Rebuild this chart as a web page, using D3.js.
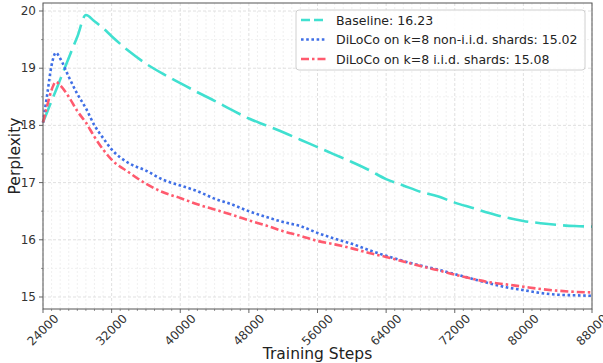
<!DOCTYPE html>
<html>
<head>
<meta charset="utf-8">
<script src="https://d3js.org/d3.v7.min.js"></script>
<style>
  body { margin: 0; background: #fff; }
  text { font-family: "DejaVu Sans", sans-serif; }
</style>
</head>
<body>
<script>
// evaluation steps shared by all three runs
var steps = [24000, 24500, 25000, 25500, 26000, 27000, 28000, 29000, 30000, 31000, 32000,
  34000, 36000, 38000, 40000, 42000, 44000, 46000, 48000, 50000, 52000, 54000, 56000,
  58000, 60000, 62000, 64000, 66000, 68000, 70000, 72000, 74000, 76000, 78000, 80000,
  82000, 84000, 86000, 88000];

var baseline = [18.05, 18.24, 18.43, 18.61, 18.80, 19.18, 19.55, 19.93, 19.82, 19.70, 19.56,
  19.30, 19.08, 18.90, 18.74, 18.58, 18.43, 18.27, 18.12, 18.00, 17.88, 17.75, 17.62,
  17.49, 17.36, 17.22, 17.06, 16.95, 16.84, 16.76, 16.65, 16.56, 16.47, 16.39, 16.33,
  16.29, 16.26, 16.24, 16.23];

var nonIid = [18.05, 18.55, 19.05, 19.27, 19.17, 18.85, 18.55, 18.30, 18.00, 17.78, 17.58,
  17.34, 17.21, 17.05, 16.95, 16.85, 16.72, 16.62, 16.50, 16.40, 16.31, 16.24, 16.12,
  16.02, 15.93, 15.82, 15.72, 15.63, 15.55, 15.48, 15.40, 15.32, 15.24, 15.17, 15.12,
  15.07, 15.04, 15.03, 15.02];

var iid = [18.05, 18.35, 18.62, 18.76, 18.70, 18.50, 18.25, 18.05, 17.80, 17.58, 17.40,
  17.18, 16.98, 16.83, 16.73, 16.62, 16.53, 16.44, 16.34, 16.25, 16.15, 16.07, 15.98,
  15.92, 15.85, 15.77, 15.70, 15.62, 15.54, 15.47, 15.39, 15.32, 15.26, 15.22, 15.18,
  15.14, 15.11, 15.09, 15.08];

var xTicks = [24000, 32000, 40000, 48000, 56000, 64000, 72000, 80000, 88000];
var yTicks = [15, 16, 17, 18, 19, 20];

var series = [
  {name: "Baseline: 16.23", values: baseline, color: "#40e0d0", dash: "21,7", width: 2.6},
  {name: "DiLoCo on k=8 non-i.i.d. shards: 15.02", values: nonIid, color: "#3f6fe6", dash: "2.6,2.6", width: 2.6},
  {name: "DiLoCo on k=8 i.i.d. shards: 15.08", values: iid, color: "#ff5a6e", dash: "8,3,2.5,3", width: 2.6}
];

const W = 603, H = 363;
const pLeft = 43, pRight = 592, pTop = 3, pBottom = 309;

const svg = d3.select("body").append("svg")
  .attr("width", W).attr("height", H);

var x = d3.scaleLinear().domain([24000, 88000]).range([pLeft, pRight]);
var y = d3.scaleLinear().domain([14.79, 20.14]).range([pBottom, pTop]);

// grid: minor first, then major
var minorX = d3.range(24000, 88001, 1000).filter(d => d % 8000 != 0);
var minorY = d3.range(15.5, 20.1, 1);

var grid = svg.append("g");
grid.selectAll(".mx").data(minorX).enter().append("line")
  .attr("x1", d => x(d)).attr("x2", d => x(d)).attr("y1", pTop).attr("y2", pBottom)
  .attr("stroke", "#ececec").attr("stroke-width", 0.8).attr("stroke-dasharray", "2,2");
grid.selectAll(".my").data(minorY).enter().append("line")
  .attr("y1", d => y(d)).attr("y2", d => y(d)).attr("x1", pLeft).attr("x2", pRight)
  .attr("stroke", "#ececec").attr("stroke-width", 0.8).attr("stroke-dasharray", "2,2");
grid.selectAll(".Mx").data(xTicks).enter().append("line")
  .attr("x1", d => x(d)).attr("x2", d => x(d)).attr("y1", pTop).attr("y2", pBottom)
  .attr("stroke", "#dcdcdc").attr("stroke-width", 0.9).attr("stroke-dasharray", "3,2");
grid.selectAll(".My").data(yTicks).enter().append("line")
  .attr("y1", d => y(d)).attr("y2", d => y(d)).attr("x1", pLeft).attr("x2", pRight)
  .attr("stroke", "#dcdcdc").attr("stroke-width", 0.9).attr("stroke-dasharray", "3,2");

// lines
var line = d3.line()
  .x((d, i) => x(steps[i]))
  .y(d => y(d))
  .curve(d3.curveMonotoneX);

svg.selectAll(".series").data(series).enter().append("path")
  .attr("d", d => line(d.values))
  .attr("fill", "none")
  .attr("stroke", d => d.color)
  .attr("stroke-width", d => d.width)
  .attr("stroke-dasharray", d => d.dash);

// frame
svg.append("rect")
  .attr("x", pLeft).attr("y", pTop).attr("width", pRight - pLeft).attr("height", pBottom - pTop)
  .attr("fill", "none").attr("stroke", "#555").attr("stroke-width", 1);

// x axis
var xAxis = svg.append("g").attr("transform", "translate(0," + pBottom + ")");
xAxis.selectAll(".minor").data(minorX).enter().append("line")
  .attr("x1", d => x(d)).attr("x2", d => x(d)).attr("y1", 0).attr("y2", 2)
  .attr("stroke", "#555").attr("stroke-width", 0.6);
xAxis.selectAll(".major").data(xTicks).enter().append("line")
  .attr("x1", d => x(d)).attr("x2", d => x(d)).attr("y1", 0).attr("y2", 4)
  .attr("stroke", "#555").attr("stroke-width", 0.9);
xAxis.selectAll("text").data(xTicks).enter().append("text")
  .attr("transform", d => "translate(" + x(d) + ",21) rotate(-45)")
  .attr("text-anchor", "middle")
  .attr("dominant-baseline", "central")
  .attr("font-size", 12)
  .attr("fill", "#333")
  .text(d => d);

// y axis
var yAxis = svg.append("g").attr("transform", "translate(" + pLeft + ",0)");
yAxis.selectAll(".minor").data(minorY).enter().append("line")
  .attr("y1", d => y(d)).attr("y2", d => y(d)).attr("x1", 0).attr("x2", -2)
  .attr("stroke", "#555").attr("stroke-width", 0.6);
yAxis.selectAll(".major").data(yTicks).enter().append("line")
  .attr("y1", d => y(d)).attr("y2", d => y(d)).attr("x1", 0).attr("x2", -4)
  .attr("stroke", "#555").attr("stroke-width", 0.9);
yAxis.selectAll("text").data(yTicks).enter().append("text")
  .attr("x", -7).attr("y", d => y(d))
  .attr("text-anchor", "end")
  .attr("dominant-baseline", "central")
  .attr("font-size", 12)
  .attr("fill", "#333")
  .text(d => d);

// axis titles
svg.append("text")
  .attr("x", (pLeft + pRight) / 2).attr("y", 359)
  .attr("text-anchor", "middle").attr("font-size", 15.5).attr("fill", "#222")
  .text("Training Steps");
svg.append("text")
  .attr("transform", "translate(20," + ((pTop + pBottom) / 2) + ") rotate(-90)")
  .attr("text-anchor", "middle").attr("font-size", 15.5).attr("fill", "#222")
  .text("Perplexity");

// legend
var lg = svg.append("g").attr("transform", "translate(296,10)");
lg.append("rect")
  .attr("width", 289).attr("height", 60).attr("rx", 3)
  .attr("fill", "rgba(255,255,255,0.85)").attr("stroke", "#d0d0d0");
var items = lg.selectAll(".item").data(series).enter().append("g")
  .attr("transform", (d, i) => "translate(0," + (10 + i * 19.5) + ")");
items.append("line")
  .attr("x1", 5).attr("x2", 31).attr("y1", 0).attr("y2", 0)
  .attr("stroke", d => d.color).attr("stroke-width", d => d.width)
  .attr("stroke-dasharray", (d, i) => i == 0 ? "9,4" : d.dash);
var labels = items.append("text")
  .attr("x", 40).attr("y", 0)
  .attr("dominant-baseline", "central")
  .attr("font-size", 13).attr("fill", "#222")
  .text(d => d.name);

// size legend text so the longest entry spans ~242px like the original
var longest = d3.max(labels.nodes(), n => n.getComputedTextLength());
labels.attr("font-size", 13 * 242 / longest);
</script>
</body>
</html>
